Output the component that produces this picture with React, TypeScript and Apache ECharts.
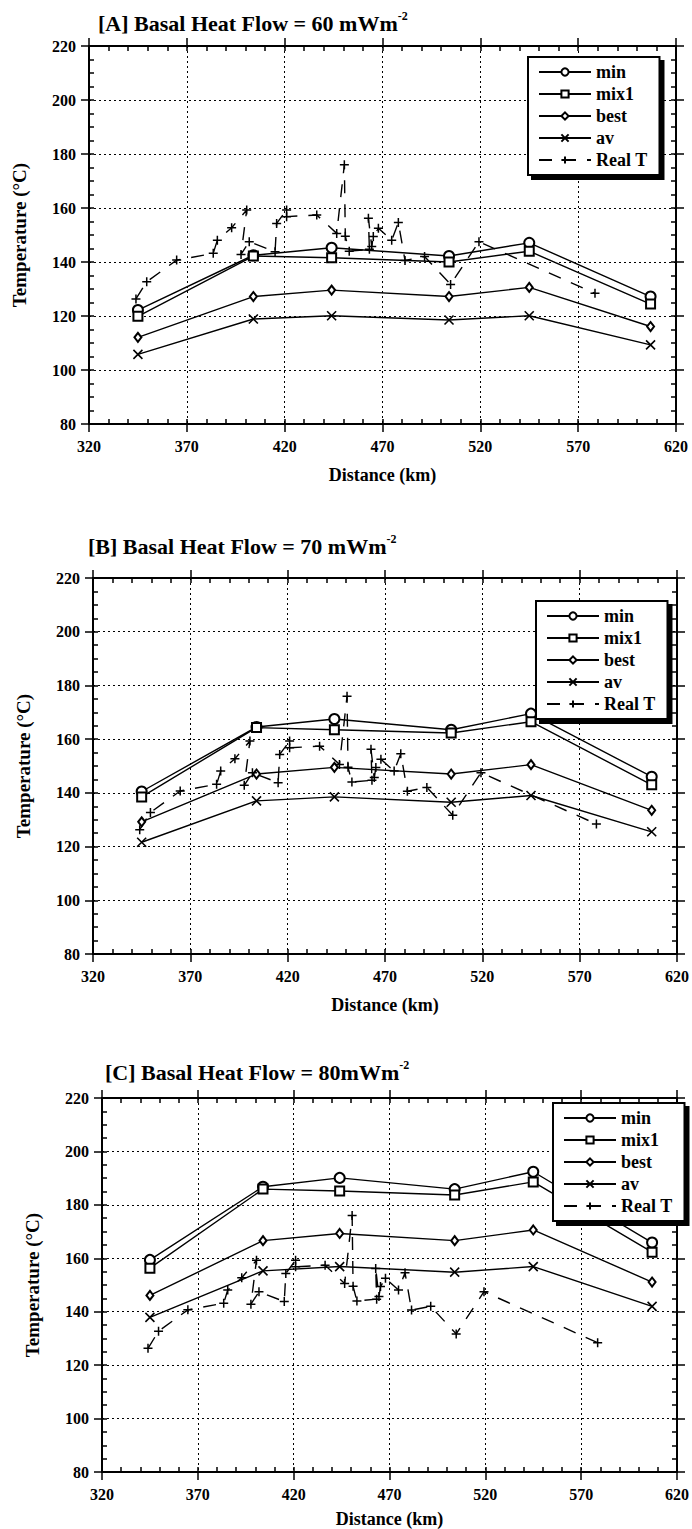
import React, { useEffect, useRef } from "react";
import * as echarts from "echarts";

// Model profiles: distance along the section (km)
const distance = [345, 404, 444, 504, 545, 607];

// [A] basal heat flow 60 mW/m2
const minA = [122.2, 142.5, 145.3, 142.2, 147.1, 127.2];
const mix1A = [119.9, 142.2, 141.6, 140.0, 144.0, 124.4];
const bestA = [112.1, 127.2, 129.6, 127.2, 130.6, 116.1];
const avA = [105.8, 118.9, 120.1, 118.5, 120.1, 109.3];

// [B] basal heat flow 70 mW/m2
const minB = [140.5, 164.5, 167.5, 163.5, 169.5, 146.0];
const mix1B = [138.5, 164.3, 163.5, 162.3, 166.5, 143.0];
const bestB = [129.2, 147.0, 149.5, 147.0, 150.5, 133.5];
const avB = [121.6, 137.0, 138.5, 136.5, 139.0, 125.5];

// [C] basal heat flow 80 mW/m2
const minC = [159.4, 186.8, 190.1, 185.9, 192.4, 165.9];
const mix1C = [156.3, 185.9, 185.2, 183.7, 188.6, 162.3];
const bestC = [146.1, 166.6, 169.3, 166.6, 170.6, 151.1];
const avC = [137.9, 155.3, 156.9, 154.8, 156.9, 142.0];

// Measured well temperatures (same in every panel)
const realDistance = [
  344.0, 349.5, 364.8, 383.5, 385.6, 392.9, 400.6, 397.7, 401.9, 415.1,
  415.9, 421.0, 421.0, 436.4, 446.6, 450.5, 451.0, 453.0, 463.3, 462.8,
  464.5, 465.3, 467.9, 474.7, 478.1, 481.5, 491.5, 504.8, 519.3, 578.6,
];
const realTemp = [
  126.3, 132.7, 140.7, 143.2, 148.1, 152.7, 159.3, 142.8, 147.5, 143.8,
  154.3, 159.3, 156.8, 157.4, 150.6, 176.0, 149.5, 144.0, 144.7, 156.2,
  145.7, 149.4, 152.5, 148.1, 154.6, 140.6, 142.0, 131.7, 147.5, 128.4,
];

const xTicks = { min: 320, max: 620, step: 50 };
const yTicks = { min: 80, max: 220, step: 20 };

const seriesNames = ["min", "mix1", "best", "av", "Real T"];

const panels = [
  { label: "[A] Basal Heat Flow = 60 mWm", min: minA, mix1: mix1A, best: bestA, av: avA },
  { label: "[B] Basal Heat Flow = 70 mWm", min: minB, mix1: mix1B, best: bestB, av: avB },
  { label: "[C] Basal Heat Flow = 80mWm", min: minC, mix1: mix1C, best: bestC, av: avC },
];

const FONT = "Liberation Serif";

// Layout of the three stacked plots
const grids = [
  { left: 89, top: 46, width: 587, height: 378 },
  { left: 93, top: 578, width: 585, height: 376 },
  { left: 102, top: 1098, width: 579, height: 374 },
];
const titlePos = [
  { left: 98, top: 10 },
  { left: 88, top: 533 },
  { left: 105, top: 1059 },
];
const legendPos = [
  { left: 528, top: 57 },
  { left: 536, top: 601 },
  { left: 553, top: 1103 },
];

const black = "#000";
const tickLine = { color: black, width: 1.5 };

function xAxesFor(g: number) {
  const base = {
    gridIndex: g,
    type: "value",
    min: xTicks.min,
    max: xTicks.max,
    interval: xTicks.step,
    splitLine: { show: false },
  };
  return [
    {
      ...base,
      position: "bottom",
      axisLine: { show: true, onZero: false, lineStyle: { color: black, width: 2 } },
      axisTick: { show: true, inside: true, length: 5, lineStyle: tickLine },
      minorTick: { show: true, splitNumber: 5, length: 5, lineStyle: tickLine },
      axisLabel: { show: true, margin: 14, color: black, fontFamily: FONT, fontWeight: "bold", fontSize: 16 },
      splitLine: { show: true, lineStyle: { color: black, type: [2, 3], width: 1 } },
      name: "Distance (km)",
      nameLocation: "middle",
      nameGap: g === 2 ? 38 : 42,
      nameTextStyle: { color: black, fontFamily: FONT, fontWeight: "bold", fontSize: 18 },
    },
    {
      ...base,
      position: "bottom",
      axisLine: { show: false },
      axisTick: { show: true, inside: false, length: 8, lineStyle: tickLine },
      axisLabel: { show: false },
    },
    {
      ...base,
      position: "top",
      axisLine: { show: true, onZero: false, lineStyle: { color: black, width: 2 } },
      axisTick: { show: true, inside: true, length: 5, lineStyle: tickLine },
      minorTick: { show: true, splitNumber: 5, length: 5, lineStyle: tickLine },
      axisLabel: { show: false },
    },
    {
      ...base,
      position: "top",
      axisLine: { show: false },
      axisTick: { show: true, inside: false, length: 8, lineStyle: tickLine },
      axisLabel: { show: false },
    },
  ];
}

function yAxesFor(g: number) {
  const base = {
    gridIndex: g,
    type: "value",
    min: yTicks.min,
    max: yTicks.max,
    interval: yTicks.step,
    splitLine: { show: false },
  };
  return [
    {
      ...base,
      position: "left",
      axisLine: { show: true, onZero: false, lineStyle: { color: black, width: 2 } },
      axisTick: { show: true, inside: true, length: 5, lineStyle: tickLine },
      minorTick: { show: true, splitNumber: 4, length: 5, lineStyle: tickLine },
      axisLabel: { show: true, margin: 13, color: black, fontFamily: FONT, fontWeight: "bold", fontSize: 16 },
      splitLine: { show: true, lineStyle: { color: black, type: [2, 3], width: 1 } },
      name: "Temperature (°C)",
      nameLocation: "middle",
      nameGap: 60,
      nameRotate: 90,
      nameTextStyle: { color: black, fontFamily: FONT, fontWeight: "bold", fontSize: 19 },
    },
    {
      ...base,
      position: "left",
      axisLine: { show: false },
      axisTick: { show: true, inside: false, length: 8, lineStyle: tickLine },
      axisLabel: { show: false },
    },
    {
      ...base,
      position: "right",
      axisLine: { show: true, onZero: false, lineStyle: { color: black, width: 2 } },
      axisTick: { show: true, inside: true, length: 5, lineStyle: tickLine },
      minorTick: { show: true, splitNumber: 4, length: 5, lineStyle: tickLine },
      axisLabel: { show: false },
    },
    {
      ...base,
      position: "right",
      axisLine: { show: false },
      axisTick: { show: true, inside: false, length: 8, lineStyle: tickLine },
      axisLabel: { show: false },
    },
  ];
}

const plusSymbol = "path://M5,0L5,10M0,5L10,5";
const crossSymbol = "path://M0,0L10,10M10,0L0,10";

function pairs(ys: number[]) {
  return distance.map((d, i) => [d, ys[i]]);
}

function seriesFor(g: number) {
  const p = panels[g];
  const common = {
    type: "line",
    xAxisIndex: g * 4,
    yAxisIndex: g * 4,
    showAllSymbol: true,
    lineStyle: { color: black, width: 1.4 },
    emphasis: { disabled: true },
  };
  return [
    {
      ...common,
      name: "min",
      data: pairs(p.min),
      symbol: "emptyCircle",
      symbolSize: 10,
      itemStyle: { color: black, borderColor: black, borderWidth: 1.3 },
    },
    {
      ...common,
      name: "mix1",
      data: pairs(p.mix1),
      symbol: "emptyRect",
      symbolSize: 9,
      itemStyle: { color: black, borderColor: black, borderWidth: 1.3 },
    },
    {
      ...common,
      name: "best",
      data: pairs(p.best),
      symbol: "emptyDiamond",
      symbolSize: [7, 9],
      itemStyle: { color: black, borderColor: black, borderWidth: 1.3 },
    },
    {
      ...common,
      name: "av",
      data: pairs(p.av),
      symbol: crossSymbol,
      symbolSize: 9,
      itemStyle: { color: black, borderColor: black, borderWidth: 1.6 },
    },
    {
      ...common,
      name: "Real T",
      data: realDistance.map((d, i) => [d, realTemp[i]]),
      symbol: plusSymbol,
      symbolSize: 9,
      lineStyle: { color: black, width: 1.4, type: [13, 11] },
      itemStyle: { color: black, borderColor: black, borderWidth: 1.5 },
      z: 3,
    },
  ];
}

export default function App() {
  const ref = useRef<HTMLDivElement>(null);

  useEffect(() => {
    if (!ref.current) return;
    const chart = echarts.init(ref.current, undefined, { renderer: "svg" });

    const option: any = {
      animation: false,
      backgroundColor: "#fff",
      title: panels.map((p, g) => ({
        text: `{a|${p.label}}{b|-2}`,
        left: titlePos[g].left,
        top: titlePos[g].top,
        padding: 0,
        textStyle: {
          rich: {
            a: { fontFamily: FONT, fontWeight: "bold", fontSize: 22, color: black, lineHeight: 26 },
            b: { fontFamily: FONT, fontWeight: "bold", fontSize: 12, color: black, lineHeight: 12, verticalAlign: "top" },
          },
        },
      })),
      grid: grids.map((r) => ({ ...r, containLabel: false })),
      xAxis: [0, 1, 2].flatMap((g) => xAxesFor(g)),
      yAxis: [0, 1, 2].flatMap((g) => yAxesFor(g)),
      legend: [0, 1, 2].map((g) => ({
        orient: "vertical",
        left: legendPos[g].left,
        top: legendPos[g].top,
        data: seriesNames,
        selectedMode: false,
        itemWidth: 52,
        itemHeight: 9,
        itemGap: 4,
        padding: [6, 12, 6, 10],
        backgroundColor: "#fff",
        borderColor: black,
        borderWidth: 2,
        shadowColor: black,
        shadowBlur: 0,
        shadowOffsetX: 4,
        shadowOffsetY: 4,
        textStyle: { fontFamily: FONT, fontWeight: "bold", fontSize: 18, lineHeight: 17, color: black },
      })),
      series: [0, 1, 2].flatMap((g) => seriesFor(g)),
    };

    chart.setOption(option);
    return () => chart.dispose();
  }, []);

  return (
    <div
      ref={ref}
      style={{ position: "absolute", left: 0, top: 0, width: 692, height: 1529, background: "#fff" }}
    />
  );
}
